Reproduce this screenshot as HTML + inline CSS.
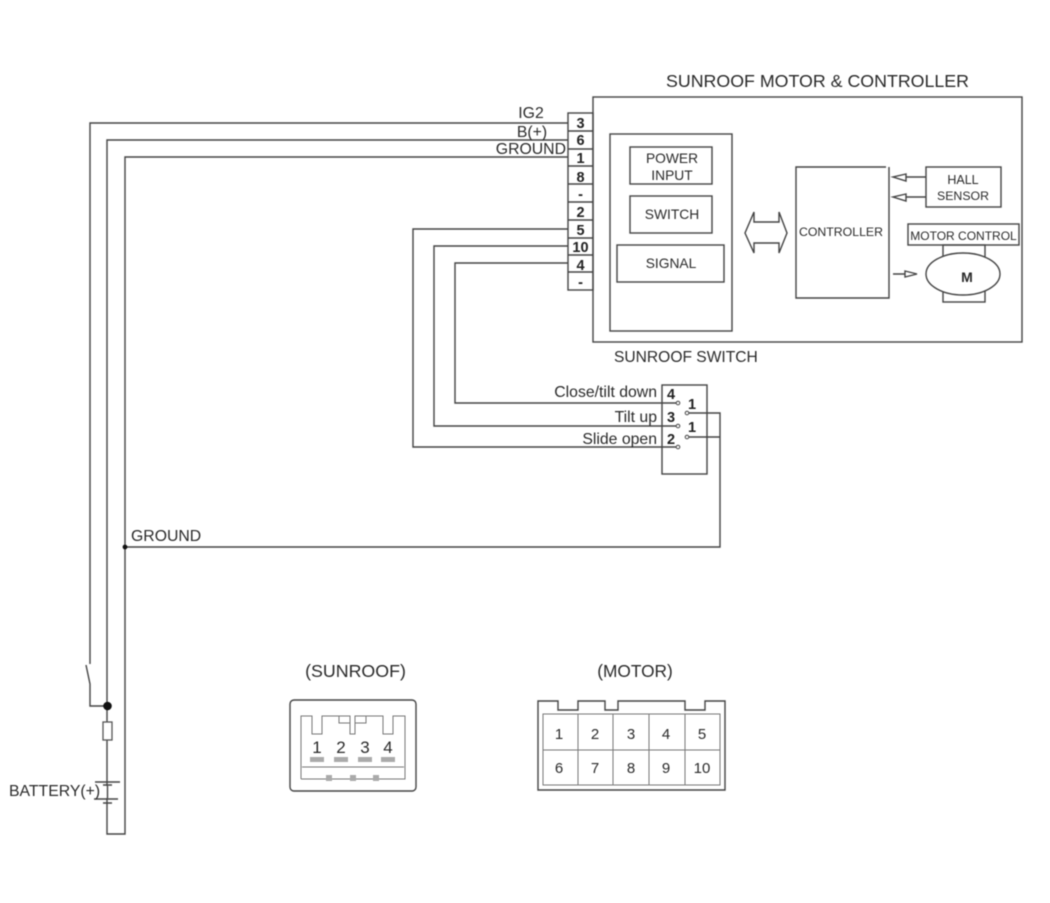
<!DOCTYPE html>
<html><head><meta charset="utf-8"><style>
html,body{margin:0;padding:0;background:#fff;width:1050px;height:903px;overflow:hidden}
svg{display:block;filter:blur(0.45px)}
text{font-family:"Liberation Sans",sans-serif;fill:#2a2a2a;font-size:15.8px}
.s{font-size:13.8px;text-anchor:middle}
.n{font-size:14.5px;font-weight:bold;text-anchor:middle;fill:#222}
.c{font-size:15px;text-anchor:middle}
.e{text-anchor:end}
.w{fill:none;stroke:#444;stroke-width:1.4}
.t{fill:none;stroke:#777;stroke-width:1}
</style></head><body>
<svg width="1050" height="903" viewBox="0 0 1050 903" xmlns="http://www.w3.org/2000/svg">
<text x="817.500" y="87" style="font-size:17.800px" text-anchor="middle">SUNROOF MOTOR &amp; CONTROLLER</text>
<rect x="593" y="97" width="429" height="245" class="w"/>
<rect x="610" y="134" width="122" height="197" class="w"/>
<rect x="630" y="147" width="82" height="37" class="w"/>
<rect x="630" y="196" width="82" height="37" class="w"/>
<rect x="617" y="245" width="107" height="37" class="w"/>
<text x="672" y="163" class="s">POWER</text><text x="672" y="180" class="s">INPUT</text>
<text x="672" y="219" class="s">SWITCH</text><text x="671" y="268" class="s">SIGNAL</text>
<path class="w" d="M754 222H779V212L787 233L779 253V243H754V253L745 233L754 212Z"/>
<path class="w" d="M886 167H796V298H889V167"/>
<text x="841" y="236" class="s" style="font-size:12.300px">CONTROLLER</text>
<rect x="926" y="167" width="75" height="40" class="w"/>
<text x="963" y="184" class="s" style="font-size:12.500px">HALL</text><text x="963" y="200" class="s" style="font-size:12.300px">SENSOR</text>
<path class="w" d="M906 177H926M906 197H926M906 174L893 177L906 181ZM906 194L893 197L906 201Z"/>
<rect x="908" y="224" width="111" height="21" class="w"/>
<text x="963.500" y="240" class="s" style="font-size:12px">MOTOR CONTROL</text>
<rect x="943" y="245" width="42" height="57" class="w"/>
<ellipse cx="963" cy="274" rx="37" ry="21" fill="#fff" stroke="#444" stroke-width="1.4"/>
<text x="967" y="282" style="font-size:14px;font-weight:bold;text-anchor:middle">M</text>
<path class="w" d="M893 274H905M905 271L917 274L905 277Z"/>

<rect x="568" y="113" width="25" height="177" class="w"/>
<path class="w" d="M568 131H593M568 149H593M568 166H593M568 184H593M568 202H593M568 220H593M568 238H593M568 255H593M568 272H593"/>
<text x="580.500" y="128" class="n">3</text><text x="580.500" y="145" class="n">6</text><text x="580.500" y="163" class="n">1</text>
<text x="580.500" y="182" class="n">8</text><text x="580.500" y="199" class="n">-</text><text x="580.500" y="217" class="n">2</text>
<text x="580.500" y="235" class="n">5</text><text x="580.500" y="252" class="n">10</text><text x="580.500" y="270" class="n">4</text>
<text x="580.500" y="287" class="n">-</text>

<path class="w" d="M568 123H90V664"/>
<path class="w" d="M568 140H107V706"/>
<path class="w" d="M568 157H125V834H107V706"/>
<text x="531" y="118" text-anchor="middle">IG2</text>
<text x="532" y="137" text-anchor="middle">B(+)</text>
<text x="566" y="154" class="e">GROUND</text>

<path class="w" d="M568 229H413V447H676"/>
<path class="w" d="M568 246H434V426H676"/>
<path class="w" d="M568 263H455V403H676"/>
<text x="614" y="362" style="font-size:15.600px">SUNROOF SWITCH</text>

<rect x="662" y="385" width="45" height="89" class="w"/>
<text x="657" y="397" class="e">Close/tilt down</text>
<text x="657" y="422" class="e">Tilt up</text>
<text x="657" y="444" class="e">Slide open</text>
<text x="671" y="399" class="n">4</text><text x="671" y="422" class="n">3</text><text x="671" y="444" class="n">2</text>
<text x="692" y="409" class="n">1</text><text x="692" y="432" class="n">1</text>
<g fill="#fff" stroke="#444" stroke-width="1"><circle cx="678" cy="403" r="1.800"/><circle cx="678" cy="426" r="1.800"/><circle cx="678" cy="447" r="1.800"/><circle cx="687" cy="413" r="1.800"/><circle cx="687" cy="437" r="1.800"/></g>
<path class="w" d="M689 413H720V547H125M689 437H720"/>
<circle cx="125" cy="547" r="2.400" fill="#111"/>
<text x="131" y="541">GROUND</text>

<path class="w" d="M86 665L90 684V706H107"/>
<circle cx="107.500" cy="706" r="4.300" fill="#111"/>
<rect x="103" y="722" width="9" height="18" fill="#fff" stroke="#555" stroke-width="1.300"/>
<path class="w" d="M95 782H120M94 799H118M103 785H112M103 803H112"/>
<rect x="106" y="786" width="3" height="12" fill="#fff"/>
<path class="w" d="M107.500 786V798"/>
<text x="9" y="796">BATTERY(+)</text>

<text x="355.500" y="677" text-anchor="middle" style="font-size:17.800px">(SUNROOF)</text>
<rect x="290" y="700" width="126" height="91" rx="4" class="w"/>
<path class="t" d="M301 779V716H312V734H322V716H350V734H355V716H383V734H393V716H405V779H301M339 716V723H350M355 723H366V716M302 767H404"/>
<text x="317" y="753" class="c" style="font-size:17px">1</text><text x="341" y="753" class="c" style="font-size:17px">2</text><text x="365" y="753" class="c" style="font-size:17px">3</text><text x="388" y="753" class="c" style="font-size:17px">4</text>
<g fill="#aaa"><rect x="310" y="757" width="14" height="5"/><rect x="334" y="757" width="14" height="5"/><rect x="358" y="757" width="14" height="5"/><rect x="381" y="757" width="14" height="5"/><rect x="326" y="775" width="6" height="6"/><rect x="350" y="775" width="6" height="6"/><rect x="373" y="775" width="6" height="6"/></g>

<text x="635" y="677" text-anchor="middle" style="font-size:17.300px">(MOTOR)</text>
<path class="w" d="M538 701H558V710H578V701H605V710H618V701H685V710H705V701H725V790H538Z"/>
<rect x="543" y="714" width="177" height="71" class="t"/>
<path class="t" d="M578 714V785M613 714V785M649 714V785M685 714V785M543 750H720"/>
<text x="559" y="739" class="c">1</text><text x="595" y="739" class="c">2</text><text x="631" y="739" class="c">3</text><text x="666" y="739" class="c">4</text><text x="702" y="739" class="c">5</text>
<text x="559" y="773" class="c">6</text><text x="595" y="773" class="c">7</text><text x="631" y="773" class="c">8</text><text x="666" y="773" class="c">9</text><text x="702" y="773" class="c">10</text>
</svg>
</body></html>
